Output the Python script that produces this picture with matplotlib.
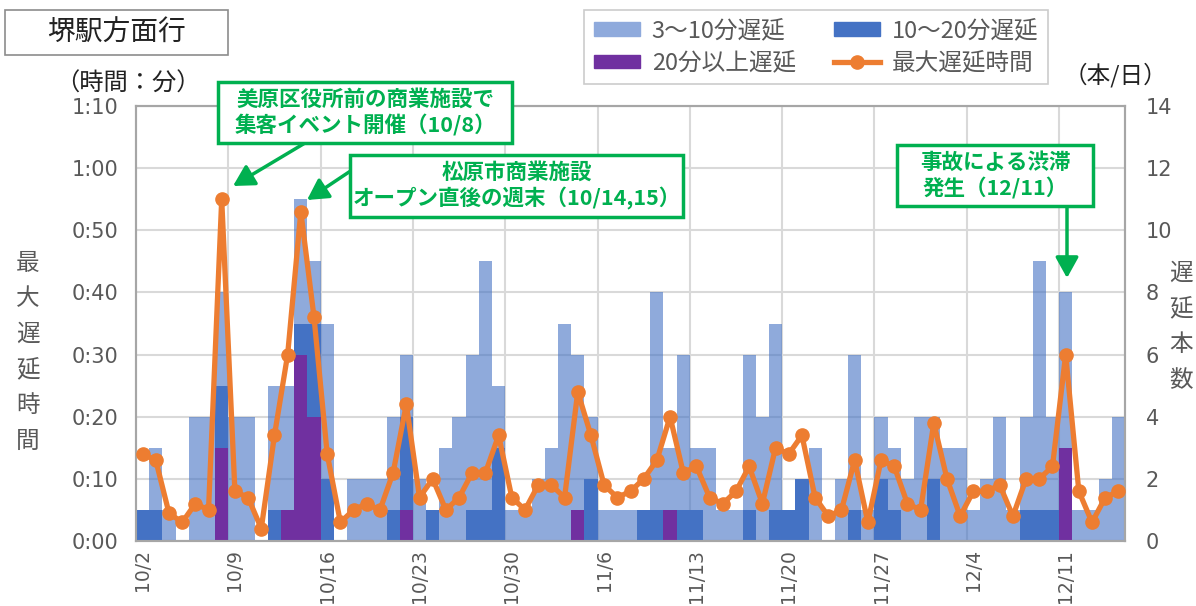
import matplotlib
matplotlib.use("Agg")
import matplotlib.pyplot as plt
import matplotlib.patches as mpatches
from matplotlib.lines import Line2D
from matplotlib.ticker import FuncFormatter, MultipleLocator
import numpy as np
import pandas as pd

plt.rcParams['font.family'] = ['Noto Sans CJK JP', 'DejaVu Sans']

# ---------- data (one value per day, 10/2 .. 12/15) ----------
dates = pd.date_range("2023-10-02", "2023-12-15", freq="D")
date_labels = [f"{d.month}/{d.day}" for d in dates]

# delayed trains per day (light = all delays >= 3 min, dark = >= 10 min, purple = >= 20 min)
cnt_3_10 = [1, 3, 1, 0, 4, 4, 8, 4, 4, 0, 5, 5, 11, 9, 7, 0, 2, 2, 2, 4,
            6, 2, 1, 3, 4, 6, 9, 5, 1, 1, 2, 3, 7, 6, 4, 1, 1, 1, 1, 8,
            3, 6, 3, 3, 1, 1, 6, 4, 7, 1, 2, 3, 0, 2, 6, 1, 4, 3, 2, 4,
            4, 3, 3, 1, 2, 4, 1, 4, 9, 4, 8, 1, 1, 2, 4]
cnt_10_20 = [1, 1, 0, 0, 0, 0, 5, 0, 0, 0, 1, 1, 7, 7, 2, 0, 0, 0, 0, 1,
             4, 0, 1, 0, 0, 1, 1, 3, 0, 0, 0, 0, 0, 1, 2, 0, 0, 0, 1, 1,
             1, 1, 1, 0, 0, 0, 1, 0, 1, 1, 2, 0, 0, 0, 1, 0, 2, 1, 0, 0,
             2, 0, 0, 0, 0, 0, 0, 1, 1, 1, 3, 0, 0, 0, 0]
cnt_20_up = [0, 0, 0, 0, 0, 0, 3, 0, 0, 0, 0, 1, 6, 4, 0, 0, 0, 0, 0, 0,
             1, 0, 0, 0, 0, 0, 0, 0, 0, 0, 0, 0, 0, 1, 0, 0, 0, 0, 0, 0,
             1, 0, 0, 0, 0, 0, 0, 0, 0, 0, 0, 0, 0, 0, 0, 0, 0, 0, 0, 0,
             0, 0, 0, 0, 0, 0, 0, 0, 0, 0, 3, 0, 0, 0, 0]
# maximum delay per day (minutes)
max_delay = [14, 13, 4.5, 3, 6, 5, 55, 8, 7, 2, 17, 30, 53, 36, 14, 3, 5, 6, 5, 11,
             22, 7, 10, 5, 7, 11, 11, 17, 7, 5, 9, 9, 7, 24, 17, 9, 7, 8, 10, 13,
             20, 11, 12, 7, 6, 8, 12, 6, 15, 14, 17, 7, 4, 5, 13, 3, 13, 12, 6, 5,
             19, 10, 4, 8, 8, 9, 4, 10, 10, 12, 30, 8, 3, 7, 8]

series_names = ["3〜10分遅延", "10〜20分遅延", "20分以上遅延", "最大遅延時間"]

C_LIGHT = "#4472C4"
C_DARK = "#4472C4"
C_PURPLE = "#7030A0"
C_LINE = "#ED7D31"
C_GREEN = "#00B050"
C_TEXT = "#595959"
W, H = 1196, 606

x = np.arange(len(dates))

fig = plt.figure(figsize=(W / 100, H / 100), dpi=100)
ax = fig.add_axes([136 / W, 65 / H, 989 / W, 435 / H])
axr = ax.twinx()

# bars on the right axis, drawn behind the line axis
axr.bar(x, cnt_3_10, width=1.0, color=C_LIGHT, alpha=0.6, linewidth=0, zorder=2)
axr.bar(x, cnt_10_20, width=1.0, color=C_DARK, linewidth=0, zorder=3)
axr.bar(x, cnt_20_up, width=1.0, color=C_PURPLE, linewidth=0, zorder=4)
axr.set_ylim(0, 14)
axr.yaxis.set_major_locator(MultipleLocator(2))
axr.set_axisbelow(True)
axr.grid(axis="y", color="#D9D9D9", linewidth=1.5, zorder=0)
for xv in np.arange(6.5, len(dates) - 1, 7):
    axr.axvline(xv, color="#D9D9D9", linewidth=1.5, zorder=1)

ax.set_zorder(axr.get_zorder() + 1)
ax.patch.set_visible(False)
ax.plot(x, max_delay, color=C_LINE, linewidth=3.8, marker="o", markersize=9.5, zorder=5)
ax.set_ylim(0, 70)
ax.set_xlim(-0.5, len(dates) - 0.5)
ax.yaxis.set_major_locator(MultipleLocator(10))
ax.yaxis.set_major_formatter(FuncFormatter(lambda v, p: f"{int(v) // 60}:{int(v) % 60:02d}"))

tick_pos = x[::7]
ax.set_xticks(tick_pos)
ax.set_xticklabels([date_labels[i] for i in tick_pos], rotation=90)

for a in (ax, axr):
    for s in a.spines.values():
        s.set_color("#A6A6A6")
        s.set_linewidth(1.5)
    a.tick_params(length=0, labelsize=15, labelcolor=C_TEXT)
    for lab in a.get_xticklabels() + a.get_yticklabels():
        lab.set_family("DejaVu Sans")
ax.tick_params(axis="y", pad=13)
axr.tick_params(axis="y", pad=15)
ax.tick_params(axis="x", pad=6, labelsize=13.5)

# axis titles
fig.text(128 / W, 1 - 84 / H, "（時間：分）", fontsize=17.5, color="#222222", ha="center", va="center")
fig.text(1115 / W, 1 - 75 / H, "（本/日）", fontsize=17, color="#222222", ha="center", va="center")
fig.text(28 / W, 1 - 352 / H, "最\n大\n遅\n延\n時\n間", fontsize=17, color=C_TEXT,
         ha="center", va="center", linespacing=1.7)
fig.text(1181 / W, 1 - 327 / H, "遅\n延\n本\n数", fontsize=17, color=C_TEXT,
         ha="center", va="center", linespacing=1.7)


def framed_text(x0, y0, x1, y1, text, edge, lw, **kw):
    # box given in figure pixels from the top-left corner
    fig.patches.append(mpatches.Rectangle((x0 / W, 1 - y1 / H), (x1 - x0) / W, (y1 - y0) / H,
                                          transform=fig.transFigure, facecolor="white",
                                          edgecolor=edge, linewidth=lw, zorder=10))
    fig.text((x0 + x1) / 2 / W, 1 - (y0 + y1) / 2 / H, text, ha="center", va="center",
             multialignment="center", zorder=11, **kw)


# title box
framed_text(5, 10, 228, 55, "堺駅方面行", "#8C8C8C", 1.2, fontsize=20, color="#222222")

# legend
handles = [
    mpatches.Patch(color="#8FAADC"),
    mpatches.Patch(color=C_PURPLE),
    mpatches.Patch(color=C_DARK),
    Line2D([0], [0], color=C_LINE, linewidth=3.8, marker="o", markersize=9.5),
]
labels = [series_names[0], series_names[2], series_names[1], series_names[3]]
leg = fig.legend(handles, labels, ncol=2, loc="center", bbox_to_anchor=(816 / W, 1 - 47 / H),
                 fontsize=17, frameon=True, fancybox=False, edgecolor="#BFBFBF",
                 handlelength=1.95, handleheight=0.5, handletextpad=0.5, columnspacing=1.6,
                 labelspacing=0.4, borderpad=0.4)
leg.get_frame().set_linewidth(1.2)
for t in leg.get_texts():
    t.set_color(C_TEXT)

# callouts
call_kw = dict(fontsize=15.5, fontweight="bold", color=C_GREEN, linespacing=1.25)
framed_text(218, 82, 512, 143, "美原区役所前の商業施設で\n集客イベント開催（10/8）", C_GREEN, 2.5, **call_kw)
framed_text(350, 155, 683, 217, "松原市商業施設\nオープン直後の週末（10/14,15）", C_GREEN, 2.5, **call_kw)
framed_text(897, 145, 1093, 206, "事故による渋滞\n発生（12/11）", C_GREEN, 2.5, **call_kw)

arrow_kw = dict(arrowstyle="-|>,head_length=0.9,head_width=0.5", color=C_GREEN, linewidth=2.5,
                shrinkA=0, shrinkB=0)
for (x0, y0), (x1, y1) in [((305, 143), (233, 186)), ((352, 170), (307, 200)),
                           ((1067, 206), (1067, 278))]:
    fig.add_artist(mpatches.FancyArrowPatch((x0 / W, 1 - y0 / H), (x1 / W, 1 - y1 / H),
                                            transform=fig.transFigure, mutation_scale=14, **arrow_kw))

fig.savefig("out.png", dpi=100)
